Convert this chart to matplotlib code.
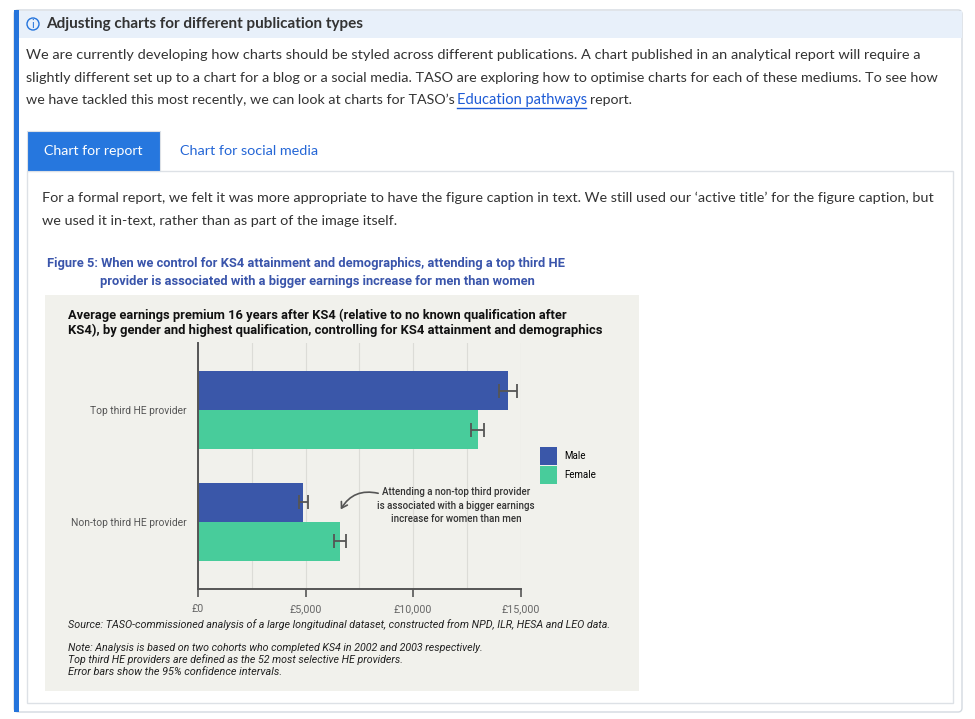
import matplotlib
matplotlib.use("Agg")
import matplotlib.pyplot as plt
from matplotlib.patches import Rectangle, FancyBboxPatch, Circle
import numpy as np

W, H = 975, 719

# chart data
providers = ["Top third HE provider", "Non-top third HE provider"]
male = [14400, 4900]
female = [13000, 6620]
male_err = [430, 220]
female_err = [310, 280]
x_ticks = [0, 5000, 10000, 15000]
x_labels = ["£0", "£5,000", "£10,000", "£15,000"]

PAGE_FONT = "Lato"
CHART_FONT = "Roboto"
MALE_C = "#3a57a9"
FEMALE_C = "#48cc9b"

fig = plt.figure(figsize=(W / 100, H / 100), dpi=100)
pg = fig.add_axes([0, 0, 1, 1])
pg.set_xlim(0, W)
pg.set_ylim(H, 0)
pg.axis("off")
renderer = fig.canvas.get_renderer()


def put(x, y, s, width=None, size=11, font=PAGE_FONT, **kw):
    kw.setdefault("va", "center")
    kw.setdefault("color", "#333333")
    t = pg.text(x, y, s, fontsize=size, family=font, **kw)
    if width:
        w = t.get_window_extent(renderer).width
        t.set_fontsize(size * width / w)
    return t


# page boxes
pg.add_patch(FancyBboxPatch((14, 10), 948, 702, boxstyle="round,pad=0,rounding_size=4",
                            fc="white", ec="#d3d9e0", lw=1))
pg.add_patch(Rectangle((19, 10.5), 942.5, 27, fc="#e8f0fa", ec="none"))
pg.add_patch(Rectangle((14, 10), 5, 702, fc="#2474dc", ec="none"))
pg.add_patch(Circle((33, 24), 6, fc="none", ec="#2474dc", lw=1))
put(33, 24.5, "i", size=8, ha="center", color="#2474dc")

put(46, 24, "Adjusting charts for different publication types", width=316, weight="bold")
put(26, 55, "We are currently developing how charts should be styled across different "
            "publications. A chart published in an analytical report will require a", width=889)
put(26, 78, "slightly different set up to a chart for a blog or a social media. TASO are "
            "exploring how to optimise charts for each of these mediums. To see how", width=908)
put(26, 100, "we have tackled this most recently, we can look at charts for TASO’s", width=428)
put(457, 100, "Education pathways", width=129, color="#1d5bd6")
pg.plot([457, 586], [108, 108], color="#1d5bd6", lw=1)
put(590, 100, "report.", width=42)

# tabs + inner panel
pg.add_patch(Rectangle((27, 171), 926, 532, fc="white", ec="#dde1e6", lw=1))
pg.add_patch(Rectangle((27, 131), 133, 40, fc="#2677de", ec="#dde1e6", lw=0.8))
put(44, 151, "Chart for report", width=99, color="white")
put(180, 151, "Chart for social media", width=138, color="#2466d6")

put(42, 198, "For a formal report, we felt it was more appropriate to have the figure caption "
             "in text. We still used our ‘active title’ for the figure caption, but", width=887)
put(42, 221, "we used it in-text, rather than as part of the image itself.", width=353)

put(47, 264, "Figure 5: When we control for KS4 attainment and demographics, attending a top third HE",
    width=519, font=CHART_FONT, weight="bold", color="#3a55ab")
put(100, 281, "provider is associated with a bigger earnings increase for men than women",
    width=437, font=CHART_FONT, weight="bold", color="#3a55ab")

# chart image background
pg.add_patch(Rectangle((45, 295), 594, 396, fc="#f1f1ec", ec="none"))
put(67.6, 315, "Average earnings premium 16 years after KS4 (relative to no known qualification after",
    width=501, font=CHART_FONT, weight="bold", color="#111111")
put(67.6, 330, "KS4), by gender and highest qualification, controlling for KS4 attainment and demographics",
    width=534, font=CHART_FONT, weight="bold", color="#111111")

put(67.6, 625, "Source: TASO-commissioned analysis of a large longitudinal dataset, constructed "
               "from NPD, ILR, HESA and LEO data.", width=541, font=CHART_FONT, style="italic",
    color="#222222")
put(67.6, 648, "Note: Analysis is based on two cohorts who completed KS4 in 2002 and 2003 respectively.",
    width=412, font=CHART_FONT, style="italic", color="#222222")
put(67.6, 660, "Top third HE providers are defined as the 52 most selective HE providers.",
    width=335, font=CHART_FONT, style="italic", color="#222222")
put(67.6, 672, "Error bars show the 95% confidence intervals.",
    width=213, font=CHART_FONT, style="italic", color="#222222")

# the bar chart
ax = fig.add_axes([198 / W, 1 - 589 / H, (520.7 - 198) / W, (589 - 343) / H])
ax.set_facecolor("none")
y = np.arange(len(providers))[::-1]
bh = 0.35
err_kw = dict(ecolor="#555555", elinewidth=1.3, capsize=5.2, capthick=1.3)
ax.barh(y + bh / 2, male, bh, color=MALE_C, xerr=male_err, error_kw=err_kw, label="Male")
ax.barh(y - bh / 2, female, bh, color=FEMALE_C, xerr=female_err, error_kw=err_kw, label="Female")

ax.set_xlim(0, 15000)
ax.set_ylim(-0.6, 1.6)
ax.set_xticks(x_ticks, x_labels)
ax.set_xticks(np.arange(0, 15001, 2500), minor=True)
ax.set_yticks(y, providers)
ax.grid(which="both", axis="x", color="#dcdcd7", lw=0.8)
ax.set_axisbelow(True)
for s in ["top", "right"]:
    ax.spines[s].set_visible(False)
for s in ["left", "bottom"]:
    ax.spines[s].set_color("#555555")
    ax.spines[s].set_linewidth(1.4)
ax.tick_params(axis="x", which="major", length=6, width=1.2, color="#555555", pad=5,
               labelsize=7.7, labelcolor="#666666")
ax.tick_params(axis="x", which="minor", length=0)
ax.tick_params(axis="y", length=0, pad=8, labelsize=7.4, labelcolor="#555555")
for lab in ax.get_xticklabels() + ax.get_yticklabels():
    lab.set_family(CHART_FONT)

ax.legend(loc="upper left", bbox_to_anchor=(540 / W, 1 - 447 / H), bbox_transform=fig.transFigure,
          frameon=False, prop={"family": CHART_FONT, "size": 7}, handlelength=1.75,
          handleheight=2.5, handletextpad=0.7, labelspacing=0.1, borderpad=0, borderaxespad=0)

ax.text(12000, 0.145, "Attending a non-top third provider\nis associated with a bigger earnings\n"
        "increase for women than men", ha="center", va="center", fontsize=7, linespacing=1.4,
        family=CHART_FONT, weight="medium", color="#333333")
ax.annotate("", xy=(6570, 0.09), xytext=(8500, 0.25),
            arrowprops=dict(arrowstyle="->,head_length=0.4,head_width=0.25",
                            connectionstyle="arc3,rad=0.4", color="#555555", lw=1.2))

fig.savefig("out.png", dpi=100)
